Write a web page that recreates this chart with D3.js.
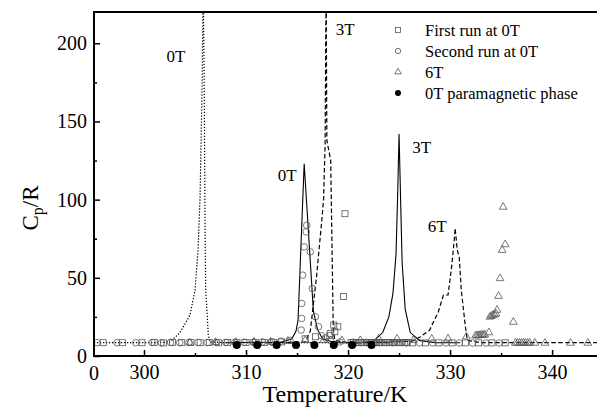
<!DOCTYPE html>
<html>
<head>
<meta charset="utf-8">
<script src="https://cdn.jsdelivr.net/npm/d3@7"></script>
<style>
  body { margin: 0; background: #fff; }
  svg { display: block; }
  svg text { font-family: "Liberation Serif", "Times New Roman", serif; }
</style>
</head>
<body>
<div id="chart"></div>
<script>
// ---- data (temperature in K, Cp/R) ----

// curves
var dot0T_T  = [295.1, 298, 301, 302.5, 303.5, 304.5, 305.0, 305.3, 305.5, 305.7, 305.8, 305.9, 306.0, 306.05, 306.2, 306.3, 306.5, 308, 322];
var dot0T_Cp = [8.5, 8.5, 8.6, 8.8, 14.7, 26, 42, 68, 102, 175, 240, 175, 68, 42, 26, 13.4, 9, 8.5, 8.5];

var solid0T_T  = [308, 313.5, 314.5, 314.9, 315.1, 315.7, 316.6, 317.0, 317.5, 318.5, 321];
var solid0T_Cp = [8.5, 9, 11, 16, 23, 123, 29, 17, 11, 9, 8.5];

var dash3T_T  = [312, 315.8, 316.3, 316.9, 317.4, 317.6, 317.75, 317.85, 317.92, 318.3, 318.45, 318.55, 318.7, 320, 324];
var dash3T_Cp = [8.5, 9, 16, 50, 85, 100, 135, 240, 138, 125, 60, 18, 10, 8.5, 8.5];

var solid3T_T  = [319, 321.0, 322.5, 323.4, 324.0, 324.4, 324.7, 324.85, 325.0, 325.15, 325.3, 325.6, 326.1, 327.0, 328.5, 331];
var solid3T_Cp = [8.5, 8.5, 9.5, 15, 25, 40, 65, 100, 142, 100, 60, 30, 15, 10, 8.5, 8.5];

var dash6T_T  = [322, 326.3, 327.1, 328.0, 328.85, 329.35, 329.8, 330.15, 330.35, 330.5, 330.7, 330.9, 331.1, 331.5, 331.7, 333, 344.4];
var dash6T_Cp = [8.5, 9.5, 12.3, 16.6, 28.3, 39, 39, 57, 70, 81.7, 68, 63, 42, 18.7, 10, 8.5, 8.5];

// symbols: first run at 0T
var sqT  = [296.0, 297.9, 299.8, 301.0, 301.9, 302.8, 303.7, 304.6, 305.5, 306.4, 307.3, 308.2, 309.1, 310.0, 310.9, 311.8, 312.7, 313.5,
            315.8, 316.8, 318.2, 318.3, 318.6, 318.7, 319.0, 319.55, 319.7,
            320.3, 320.55, 320.8, 321.05, 321.3, 321.55, 321.8, 322.05, 322.3, 322.55, 322.8, 323.05, 323.3, 323.55, 323.8, 324.05, 324.3, 324.55, 324.8, 325.05, 325.3, 325.55, 325.8,
            326.3, 327.6, 328.9, 330.2, 331.5, 332.8, 334.1, 335.4];
var sqCp = [8.5, 8.5, 8.5, 8.6, 8.4, 8.6, 8.5, 8.7, 8.5, 8.6, 8.5, 8.6, 8.5, 8.7, 8.6, 8.7, 8.8, 9,
            11, 12.3, 13, 14.5, 19.8, 15.5, 18.7, 38, 91,
            8.6, 8.5, 8.6, 8.5, 8.6, 8.5, 8.6, 8.5, 8.6, 8.5, 8.6, 8.5, 8.6, 8.5, 8.6, 8.5, 8.6, 8.5, 8.6, 8.5, 8.6, 8.5, 8.6,
            8.4, 8.4, 8.4, 8.4, 8.4, 8.4, 8.4, 8.4];

// symbols: second run at 0T
var ciT  = [295.4, 297.35, 299.2, 300.8, 301.7, 302.6, 303.5, 304.4, 305.3, 306.2, 307.1, 308.0, 308.9, 309.8, 310.7, 311.6, 312.5, 313.4, 314.3,
            315.4, 315.45, 315.45, 315.55, 315.7, 315.9, 315.95, 316.3, 316.5, 316.8, 317.1, 317.4, 317.8, 318.3,
            319.2, 320.5, 321.8, 323.1, 324.4, 325.7, 327.0, 328.3, 329.6, 330.9, 332.2, 333.5, 334.8];
var ciCp = [8.5, 8.5, 8.5, 8.6, 8.5, 8.7, 8.6, 8.6, 8.7, 8.6, 8.7, 8.7, 8.8, 8.8, 8.9, 9, 9.2, 9.5, 10,
            16.6, 24, 33.6, 51.7, 69.8, 79.4, 83.6, 66.6, 43.2, 25.1, 18.7, 13, 11.5, 10,
            9, 8.8, 8.7, 8.6, 8.5, 8.4, 8.4, 8.4, 8.4, 8.3, 8.3, 8.3, 8.3];

// symbols: 6T
var trT  = [304.5, 307.0, 309.0, 310.8, 312.4, 314.1, 315.8, 317.6, 319.4, 321.2, 323.0, 324.8, 326.4, 328.2, 329.8, 331.6,
            332.5, 332.65, 332.8, 332.95, 333.1, 333.25, 333.4, 333.8,
            333.9, 334.05, 334.2, 334.35, 334.5, 334.6, 334.75, 334.9, 335.1, 335.2, 335.4, 336.2,
            336.4, 336.6, 336.8, 337.0, 337.2, 337.4, 337.6, 337.8, 338.3, 339.3, 341.8, 343.5];
var trCp = [8.5, 8.8, 8.8, 9, 9, 9.5, 10, 10, 10, 10, 11, 11, 10, 11, 11, 12.3,
            13, 13.1, 13.2, 13.3, 13.4, 13.5, 13.6, 15,
            25, 25.5, 26, 26.5, 27, 29.4, 38.3, 49.6, 67.7, 95.3, 71.3, 21.7,
            8.3, 8.3, 8.3, 8.3, 8.3, 8.3, 8.3, 8.3, 8.3, 8.3, 8.3, 8.3];

// symbols: 0T paramagnetic phase
var paraT  = [309.1, 311.1, 313.0, 314.9, 316.7, 318.6, 320.4, 322.3];
var paraCp = [7, 7, 7, 7, 7, 7, 7, 7];

// axes
var xTicks = [300, 310, 320, 330, 340];
var xMinor = [305, 315, 325, 335];
var yTicks = [0, 50, 100, 150, 200];
var yMinor = [25, 75, 125, 175];

var legendNames = ["First run at 0T", "Second run at 0T", "6T", "0T paramagnetic phase"];
var curveLabels = [
  {text: "0T", t: 302.2, cp: 188},
  {text: "0T", t: 313.1, cp: 112},
  {text: "3T", t: 318.8, cp: 205},
  {text: "3T", t: 326.3, cp: 130},
  {text: "6T", t: 327.8, cp: 79}
];

// ---- drawing ----
var width = 597, height = 408;
var margin = {top: 12, right: 0, bottom: 52, left: 94};
var serif = "Liberation Serif, Times New Roman, serif";

var svg = d3.select("#chart").append("svg")
    .attr("width", width)
    .attr("height", height)
    .attr("font-family", serif);

var x = d3.scaleLinear()
    .domain([295.1, 344.4])
    .range([margin.left, width - margin.right]);

var y = d3.scaleLinear()
    .domain([0, 220])
    .range([height - margin.bottom, margin.top]);

svg.append("clipPath").attr("id", "plotclip")
  .append("rect")
    .attr("x", margin.left).attr("y", margin.top)
    .attr("width", width - margin.left).attr("height", y(0) - margin.top);

var plot = svg.append("g").attr("clip-path", "url(#plotclip)");

function pairs(ts, cps) { return ts.map(function(t, i) { return [t, cps[i]]; }); }

var line = d3.line()
    .x(function(d) { return x(d[0]); })
    .y(function(d) { return y(d[1]); });

var curves = [
  {pts: pairs(dot0T_T, dot0T_Cp), dash: "1.3,1.7", w: 1.2},
  {pts: pairs(solid0T_T, solid0T_Cp), dash: null, w: 1.1},
  {pts: pairs(dash3T_T, dash3T_Cp), dash: "4.5,2.5", w: 1.2},
  {pts: pairs(solid3T_T, solid3T_Cp), dash: null, w: 1.1},
  {pts: pairs(dash6T_T, dash6T_Cp), dash: "4.5,2.5", w: 1.2}
];

plot.selectAll("path.curve")
  .data(curves)
  .enter().append("path")
    .attr("class", "curve")
    .attr("fill", "none")
    .attr("stroke", "#000")
    .attr("stroke-width", function(d) { return d.w; })
    .attr("stroke-dasharray", function(d) { return d.dash; })
    .attr("d", function(d) { return line(d.pts); });

var symGray = "#555";

// squares
plot.selectAll("rect.sq")
  .data(pairs(sqT, sqCp))
  .enter().append("rect")
    .attr("class", "sq")
    .attr("x", function(d) { return x(d[0]) - 3; })
    .attr("y", function(d) { return y(d[1]) - 3; })
    .attr("width", 6).attr("height", 6)
    .attr("fill", "none").attr("stroke", symGray).attr("stroke-width", 0.8);

// open circles
plot.selectAll("circle.ci")
  .data(pairs(ciT, ciCp))
  .enter().append("circle")
    .attr("class", "ci")
    .attr("cx", function(d) { return x(d[0]); })
    .attr("cy", function(d) { return y(d[1]); })
    .attr("r", 3.3)
    .attr("fill", "none").attr("stroke", symGray).attr("stroke-width", 0.8);

// triangles
var tri = d3.symbol().type(d3.symbolTriangle).size(26);
plot.selectAll("path.tr")
  .data(pairs(trT, trCp))
  .enter().append("path")
    .attr("class", "tr")
    .attr("d", tri)
    .attr("transform", function(d) { return "translate(" + x(d[0]) + "," + y(d[1]) + ")"; })
    .attr("fill", "none").attr("stroke", symGray).attr("stroke-width", 0.8);

// filled circles
plot.selectAll("circle.para")
  .data(pairs(paraT, paraCp))
  .enter().append("circle")
    .attr("class", "para")
    .attr("cx", function(d) { return x(d[0]); })
    .attr("cy", function(d) { return y(d[1]); })
    .attr("r", 4)
    .attr("fill", "#000");

// axes, ticks pointing inward
svg.append("g")
    .attr("transform", "translate(0," + y(0) + ")")
    .call(d3.axisBottom(x).tickValues(xTicks).tickSizeInner(-6).tickSizeOuter(0).tickPadding(9));
svg.append("g")
    .attr("transform", "translate(0," + y(0) + ")")
    .call(d3.axisBottom(x).tickValues(xMinor).tickSizeInner(-3).tickSizeOuter(0).tickFormat(""));
svg.append("g")
    .attr("transform", "translate(" + margin.left + ",0)")
    .call(d3.axisLeft(y).tickValues(yTicks).tickSizeInner(-6).tickSizeOuter(0).tickPadding(7));
svg.append("g")
    .attr("transform", "translate(" + margin.left + ",0)")
    .call(d3.axisLeft(y).tickValues(yMinor).tickSizeInner(-3).tickSizeOuter(0).tickFormat(""));

svg.selectAll(".domain").remove();
svg.selectAll("g").attr("font-family", serif);
svg.selectAll(".tick line").attr("stroke", "#000").attr("stroke-width", 1.5);
svg.selectAll(".tick text")
    .attr("font-family", serif)
    .attr("font-size", 20)
    .attr("fill", "#000");

// frame
svg.append("rect")
    .attr("x", margin.left).attr("y", margin.top)
    .attr("width", width + 10 - margin.left).attr("height", y(0) - margin.top)
    .attr("fill", "none").attr("stroke", "#000").attr("stroke-width", 2);

// origin label under the x axis
svg.append("text")
    .attr("x", x(295.1)).attr("y", y(0) + 23.5)
    .attr("text-anchor", "middle")
    .attr("font-size", 20)
    .text("0");

// axis titles
svg.append("text")
    .attr("x", 335).attr("y", 402)
    .attr("text-anchor", "middle")
    .attr("font-size", 24)
    .text("Temperature/K");

var yt = svg.append("text")
    .attr("transform", "translate(38,208) rotate(-90)")
    .attr("text-anchor", "middle")
    .attr("font-size", 23);
yt.append("tspan").text("C");
yt.append("tspan").attr("font-size", 16).attr("dy", 5).text("p");
yt.append("tspan").attr("dy", -5).text("/R");

// curve labels
svg.selectAll("text.clabel")
  .data(curveLabels)
  .enter().append("text")
    .attr("class", "clabel")
    .attr("x", function(d) { return x(d.t); })
    .attr("y", function(d) { return y(d.cp); })
    .attr("font-size", 17)
    .text(function(d) { return d.text; });

// legend
var lg = svg.append("g").attr("transform", "translate(398,30)");
var rowH = 21;
legendNames.forEach(function(name, i) {
  var row = lg.append("g").attr("transform", "translate(0," + (i * rowH) + ")");
  if (i === 0) {
    row.append("rect").attr("x", -2.5).attr("y", -2.5).attr("width", 5).attr("height", 5)
      .attr("fill", "none").attr("stroke", symGray).attr("stroke-width", 0.8);
  } else if (i === 1) {
    row.append("circle").attr("r", 2.7)
      .attr("fill", "none").attr("stroke", symGray).attr("stroke-width", 0.8);
  } else if (i === 2) {
    row.append("path").attr("d", d3.symbol().type(d3.symbolTriangle).size(18))
      .attr("fill", "none").attr("stroke", symGray).attr("stroke-width", 0.8);
  } else {
    row.append("circle").attr("r", 3).attr("fill", "#000");
  }
  row.append("text")
    .attr("x", 27).attr("y", 6)
    .attr("font-family", serif)
    .attr("font-size", 16.5)
    .text(name);
});
</script>
</body>
</html>
